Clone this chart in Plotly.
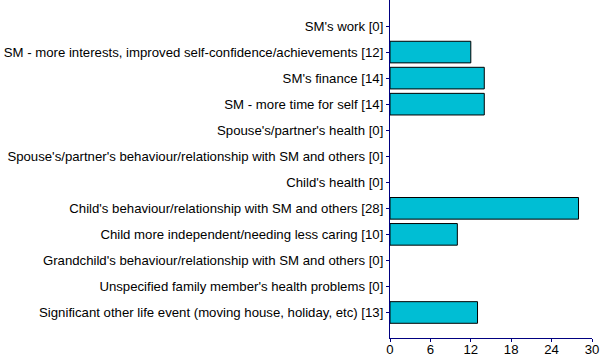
import plotly.graph_objects as go

categories = [
    "SM's work [0]",
    "SM - more interests, improved self-confidence/achievements [12]",
    "SM's finance [14]",
    "SM - more time for self [14]",
    "Spouse's/partner's health [0]",
    "Spouse's/partner's behaviour/relationship with SM and others [0]",
    "Child's health [0]",
    "Child's behaviour/relationship with SM and others [28]",
    "Child more independent/needing less caring [10]",
    "Grandchild's behaviour/relationship with SM and others [0]",
    "Unspecified family member's health problems [0]",
    "Significant other life event (moving house, holiday, etc) [13]",
]
values = [0, 12, 14, 14, 0, 0, 0, 28, 10, 0, 0, 13]
x_ticks = [0, 6, 12, 18, 24, 30]

fig = go.Figure(go.Bar(
    x=values, y=categories, orientation="h",
    marker=dict(color="#00BED4",
                line=dict(color="#000000", width=[1 if v > 0 else 0 for v in values])),
    width=0.83,
))

fig.update_layout(
    width=600, height=364,
    margin=dict(l=390, r=8, t=0, b=26),
    plot_bgcolor="white", paper_bgcolor="white",
    font=dict(family="Arial, Liberation Sans, sans-serif", size=13.2, color="black"),
    showlegend=False,
)
fig.update_xaxes(
    range=[0, 30], tickvals=x_ticks, showgrid=False, zeroline=False,
    showline=True, linecolor="#000080", linewidth=1,
    ticks="outside", ticklen=3, tickcolor="#000080",
    tickfont=dict(size=13.2), automargin=False, ticklabelstandoff=-4,
)
fig.update_yaxes(
    type="category", categoryorder="array", categoryarray=categories,
    range=[11.98, -1], showgrid=False, zeroline=False,
    showline=True, linecolor="#000080", linewidth=1,
    ticks="outside", ticklen=3, tickcolor="#000080",
    tickfont=dict(size=13.2), automargin=False,
)

fig.write_html("out.html",
               config={"displayModeBar": False},
               post_script="document.body.style.margin='0px';document.body.style.overflow='hidden';")
